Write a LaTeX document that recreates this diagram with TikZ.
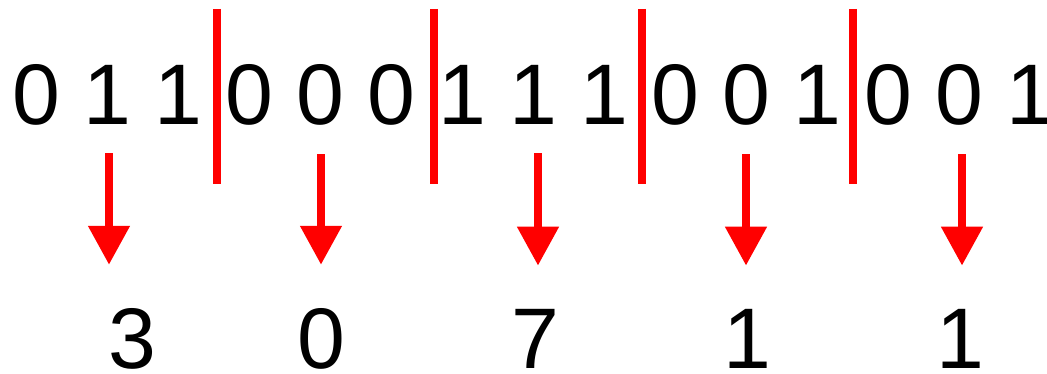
\documentclass[tikz,border=0pt]{standalone}
\usepackage{fontspec}
\setmainfont{Liberation Sans}
\usetikzlibrary{arrows.meta}
\definecolor{mark}{RGB}{255,0,0}
\begin{document}
\begin{tikzpicture}[x=1pt,y=-1pt,
  digit/.style={inner sep=0pt,anchor=base,font=\fontsize{86}{100}\selectfont},
  sep/.style={draw=mark,line width=8pt},
  arr/.style={draw=mark,line width=8pt,-{Triangle[width=40pt,length=39pt]}}]
  \useasboundingbox (0,0) rectangle (1047,374);
  % the bit string
  \foreach \b [count=\i from 0] in {0,1,1,0,0,0,1,1,1,0,0,1,0,0,1}
    \node[digit] (d\i) at ({36+71*\i},125) {\b};
  % group separators
  \foreach \x in {217,434,642,853}
    \draw[sep] (\x,9) -- (\x,184);
  % decoded group values
  \node[digit] (n1) at (132,368) {3};
  \node[digit] (n4) at (321,368) {0};
  \node[digit] (n7) at (535,368) {7};
  \node[digit] (n10) at (747,368) {1};
  \node[digit] (n13) at (960,368) {1};
  % arrows from the middle bit of each group to its value
  \foreach \i/\dx in {1/2,4/1,7/5,10/0,13/3}
    \draw[arr] ([xshift=\dx pt,yshift=-28pt]d\i.south) -- ([xshift=\dx pt,yshift=43pt]d\i.south |- n\i.north);
\end{tikzpicture}
\end{document}
